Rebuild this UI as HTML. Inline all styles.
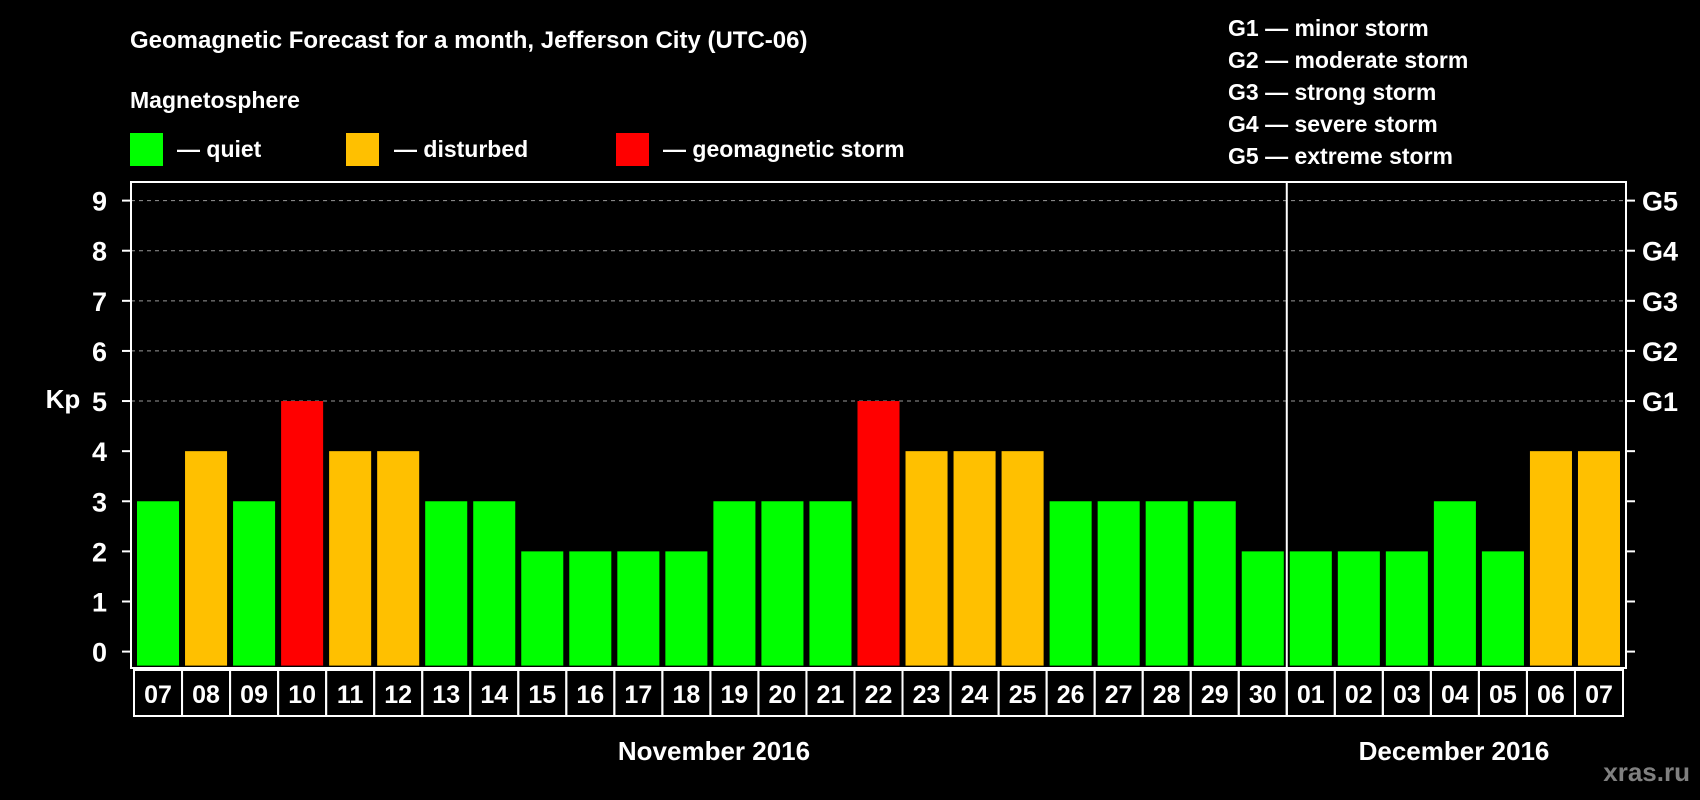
<!DOCTYPE html>
<html><head><meta charset="utf-8"><style>
html,body{margin:0;padding:0;background:#000;width:1700px;height:800px;overflow:hidden}
svg{display:block;font-family:"Liberation Sans",Arial,sans-serif;font-weight:bold}
</style></head><body>
<svg id="chart" width="1700" height="800" viewBox="0 0 1700 800">
<text x="130" y="48" fill="#fff" font-size="24">Geomagnetic Forecast for a month, Jefferson City (UTC-06)</text>
<text x="130" y="108" fill="#fff" font-size="23">Magnetosphere</text>
<g><rect x="130" y="133" width="33" height="33" fill="#00ff00"/><text x="177" y="157" fill="#fff" font-size="23">— quiet</text></g>
<g><rect x="346" y="133" width="33" height="33" fill="#ffc000"/><text x="394" y="157" fill="#fff" font-size="23">— disturbed</text></g>
<g><rect x="616" y="133" width="33" height="33" fill="#ff0000"/><text x="663" y="157" fill="#fff" font-size="23">— geomagnetic storm</text></g>
<g fill="#fff" font-size="23">
<text x="1228" y="36">G1 — minor storm</text>
<text x="1228" y="68">G2 — moderate storm</text>
<text x="1228" y="100">G3 — strong storm</text>
<text x="1228" y="132">G4 — severe storm</text>
<text x="1228" y="164">G5 — extreme storm</text>
</g>
<text x="63" y="408" fill="#fff" font-size="26" text-anchor="middle">Kp</text>
<text x="714" y="760" fill="#fff" font-size="26" text-anchor="middle">November 2016</text>
<text x="1454" y="760" fill="#fff" font-size="26" text-anchor="middle">December 2016</text>
<text x="1690" y="781" fill="#808080" font-size="26" text-anchor="end">xras.ru</text>
<g id="grid"></g><g id="bars"></g><g id="axes"></g>
</svg>
<script>
const days = ["07","08","09","10","11","12","13","14","15","16","17","18","19","20","21","22","23","24","25","26","27","28","29","30","01","02","03","04","05","06","07"];
const kpValues = [3,4,3,5,4,4,3,3,2,2,2,2,3,3,3,5,4,4,4,3,3,3,3,2,2,2,2,3,2,4,4];
const yTicks = [0,1,2,3,4,5,6,7,8,9];
const gLabels = ["G1","G2","G3","G4","G5"];
const NS="http://www.w3.org/2000/svg";
const L=131,R=1626,T=182,B=668,Y0=651.6,Y9=200.6;
const y=v=>Y0+(Y9-Y0)*v/9;
const pitch=(R-L-6)/days.length;
const x=i=>L+6+i*pitch;
function mk(tag,attrs,parent){const e=document.createElementNS(NS,tag);for(const k in attrs)e.setAttribute(k,attrs[k]);parent.appendChild(e);return e;}
const grid=document.getElementById('grid'),bars=document.getElementById('bars'),axes=document.getElementById('axes');
yTicks.forEach(v=>{
  if(v>=5){const g=mk('line',{x1:L,x2:R,y1:y(v),y2:y(v),stroke:'#999','stroke-dasharray':'4,4','stroke-width':1},grid);
  
  }
  const t=mk('line',{x1:L-9,x2:L,y1:y(v),y2:y(v),stroke:'#fff','stroke-width':2},axes);
  
  
  const t2=mk('line',{x1:R,x2:R+9,y1:y(v),y2:y(v),stroke:'#fff','stroke-width':2},axes);
  
  
  const lb=mk('text',{x:L-24,y:y(v)+10,fill:'#fff','font-size':27,'text-anchor':'end'},axes);
  lb.textContent=v;
  
  
});
gLabels.forEach((g,i)=>{
  const lb=mk('text',{x:R+16,y:y(5+i)+10,fill:'#fff','font-size':27},axes);
  lb.textContent=g;
  
  
});
kpValues.forEach((v,i)=>{
  const c=v>=5?'#ff0000':(v>=4?'#ffc000':'#00ff00');
  const r=mk('rect',{x:x(i),y:y(v),width:pitch-6,height:Y0-y(v)+14,fill:c},bars);
  
  
  const cell=mk('rect',{x:x(i)-3,y:B+2,width:pitch,height:46,fill:'none',stroke:'#fff','stroke-width':2},axes);
  
  
  const t=mk('text',{x:x(i)-3+pitch/2,y:B+35,fill:'#fff','font-size':25,'text-anchor':'middle'},axes);
  t.textContent=days[i];
  
  
});
const fr=mk('rect',{x:L,y:T,width:R-L,height:B-T,fill:'none',stroke:'#fff','stroke-width':2},axes);


const dx=x(24)-3;
const dv=mk('line',{x1:dx,x2:dx,y1:T,y2:B+48,stroke:'#fff','stroke-width':2},axes);


</script>
</body></html>
